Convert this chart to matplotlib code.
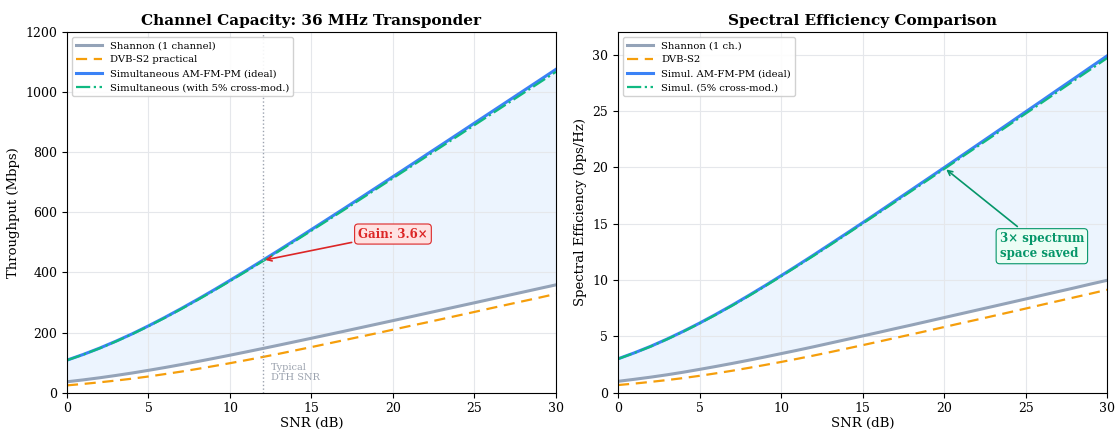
import numpy as np
import matplotlib
matplotlib.use("Agg")
import matplotlib.pyplot as plt

plt.rcParams['font.family'] = ['DejaVu Serif']

snr_db = list(range(0, 31))
# Spectral efficiency (bps/Hz), single channel Shannon
se_shannon = [1.00, 1.18, 1.37, 1.58, 1.81, 2.06, 2.32, 2.59, 2.87, 3.16,
              3.46, 3.76, 4.07, 4.39, 4.71, 5.03, 5.35, 5.68, 6.00, 6.33,
              6.66, 6.99, 7.32, 7.65, 7.98, 8.31, 8.64, 8.97, 9.30, 9.64, 9.97]
se_dvbs2 = [0.67, 0.80, 0.95, 1.11, 1.29, 1.49, 1.71, 1.94, 2.19, 2.45,
            2.72, 3.00, 3.29, 3.59, 3.90, 4.21, 4.53, 4.85, 5.17, 5.49,
            5.82, 6.15, 6.47, 6.80, 7.13, 7.46, 7.80, 8.13, 8.46, 8.79, 9.13]
se_simul = [3.00, 3.53, 4.11, 4.75, 5.44, 6.17, 6.95, 7.76, 8.61, 9.48,
            10.38, 11.29, 12.22, 13.17, 14.12, 15.08, 16.05, 17.03, 18.01, 18.99,
            19.97, 20.96, 21.95, 22.94, 23.93, 24.93, 25.92, 26.92, 27.91, 28.91, 29.90]
se_xmod = [2.99, 3.52, 4.09, 4.73, 5.41, 6.14, 6.91, 7.72, 8.56, 9.43,
           10.32, 11.23, 12.15, 13.09, 14.04, 15.00, 15.96, 16.93, 17.90, 18.87,
           19.85, 20.83, 21.81, 22.79, 23.78, 24.77, 25.75, 26.74, 27.73, 28.71, 29.70]

# Throughput (Mbps) for 36 MHz transponder
thr_shannon = [36.0, 42.3, 49.3, 57.0, 65.2, 74.1, 83.4, 93.2, 103.3, 113.8,
               124.5, 135.5, 146.7, 158.0, 169.5, 181.0, 192.6, 204.3, 216.1, 227.9,
               239.7, 251.5, 263.4, 275.3, 287.2, 299.1, 311.1, 323.0, 334.9, 346.9, 358.8]
thr_dvbs2 = [24.0, 28.8, 34.2, 40.0, 46.4, 53.6, 61.6, 69.8, 78.8, 88.2,
             97.9, 108.0, 118.4, 129.2, 140.4, 151.6, 163.1, 174.6, 186.1, 197.6,
             209.5, 221.4, 232.9, 244.8, 256.7, 268.6, 280.8, 292.7, 304.6, 316.4, 328.7]
thr_simul = [108.0, 127.0, 148.0, 171.0, 195.6, 222.2, 250.2, 279.5, 309.9, 341.3,
             373.6, 406.5, 440.1, 474.0, 508.4, 543.1, 577.9, 612.9, 648.2, 683.6,
             719.1, 754.6, 790.3, 825.9, 861.7, 897.5, 933.2, 969.0, 1004.8, 1040.6, 1076.5]
thr_xmod = [107.6, 126.5, 147.3, 170.1, 194.6, 221.0, 248.7, 277.8, 308.0, 339.1,
            371.2, 403.8, 437.1, 470.8, 504.9, 539.3, 573.8, 608.5, 643.5, 678.6,
            713.8, 749.0, 784.4, 819.7, 855.2, 890.7, 926.1, 961.6, 997.1, 1032.6, 1068.2]

C_SH = '#94a3b8'
C_DV = '#f59e0b'
C_SI = '#3b82f6'
C_XM = '#10b981'
C_FILL = '#dbeafe'

fig, (ax1, ax2) = plt.subplots(1, 2, figsize=(11.16, 4.3), dpi=100)
fig.subplots_adjust(left=0.060, right=0.992, top=0.925, bottom=0.087, wspace=0.127)

# Left panel
ax1.fill_between(snr_db, thr_shannon, thr_simul, color=C_FILL, alpha=0.5, lw=0)
ax1.plot(snr_db, thr_shannon, color=C_SH, lw=2.2, label='Shannon (1 channel)')
ax1.plot(snr_db, thr_dvbs2, color=C_DV, lw=1.6, ls=(0, (5, 3)), label='DVB-S2 practical')
ax1.plot(snr_db, thr_simul, color=C_SI, lw=2.2, label='Simultaneous AM-FM-PM (ideal)')
ax1.plot(snr_db, thr_xmod, color=C_XM, lw=1.6, ls='-.',
         label='Simultaneous (with 5% cross-mod.)')
ax1.axvline(12, color='#9ca3af', ls=':', lw=1.0)
ax1.text(12.5, 35, 'Typical\nDTH SNR', fontsize=7, color='#9ca3af', va='bottom', ha='left')
ax1.annotate('Gain: 3.6×', xy=(12, 440), xytext=(20, 528),
             fontsize=8.5, fontweight='bold', color='#dc2626', ha='center', va='center',
             bbox=dict(boxstyle='round,pad=0.3', fc='#fee2e2', ec='#dc2626', lw=0.8),
             arrowprops=dict(arrowstyle='->', color='#dc2626', lw=1.2))
ax1.set_xlim(0, 30)
ax1.set_ylim(0, 1200)
ax1.set_xlabel('SNR (dB)', fontsize=9.5, labelpad=1)
ax1.set_ylabel('Throughput (Mbps)', fontsize=9.5)
ax1.set_title('Channel Capacity: 36 MHz Transponder', fontsize=11, fontweight='bold', pad=5)
ax1.grid(True, color='#e5e7eb', lw=0.8)
ax1.legend(loc='upper left', fontsize=7.2, framealpha=0.9, handlelength=2.6)

# Right panel
ax2.fill_between(snr_db, se_shannon, se_simul, color=C_FILL, alpha=0.5, lw=0)
ax2.plot(snr_db, se_shannon, color=C_SH, lw=2.2, label='Shannon (1 ch.)')
ax2.plot(snr_db, se_dvbs2, color=C_DV, lw=1.6, ls=(0, (5, 3)), label='DVB-S2')
ax2.plot(snr_db, se_simul, color=C_SI, lw=2.2, label='Simul. AM-FM-PM (ideal)')
ax2.plot(snr_db, se_xmod, color=C_XM, lw=1.6, ls='-.',
         label='Simul. (5% cross-mod.)')
ax2.annotate('3× spectrum\nspace saved', xy=(20, 19.97), xytext=(26, 13),
             fontsize=8.5, fontweight='bold', color='#059669', ha='center', va='center',
             multialignment='left',
             bbox=dict(boxstyle='round,pad=0.3', fc='#ecfdf5', ec='#059669', lw=0.8),
             arrowprops=dict(arrowstyle='->', color='#059669', lw=1.2))
ax2.set_xlim(0, 30)
ax2.set_ylim(0, 32)
ax2.set_xlabel('SNR (dB)', fontsize=9.5, labelpad=1)
ax2.set_ylabel('Spectral Efficiency (bps/Hz)', fontsize=9.5)
ax2.set_title('Spectral Efficiency Comparison', fontsize=11, fontweight='bold', pad=5)
ax2.grid(True, color='#e5e7eb', lw=0.8)
ax2.legend(loc='upper left', fontsize=7.2, framealpha=0.9, handlelength=2.6)

for ax in (ax1, ax2):
    ax.tick_params(labelsize=9)

fig.savefig('out.png', dpi=100)
